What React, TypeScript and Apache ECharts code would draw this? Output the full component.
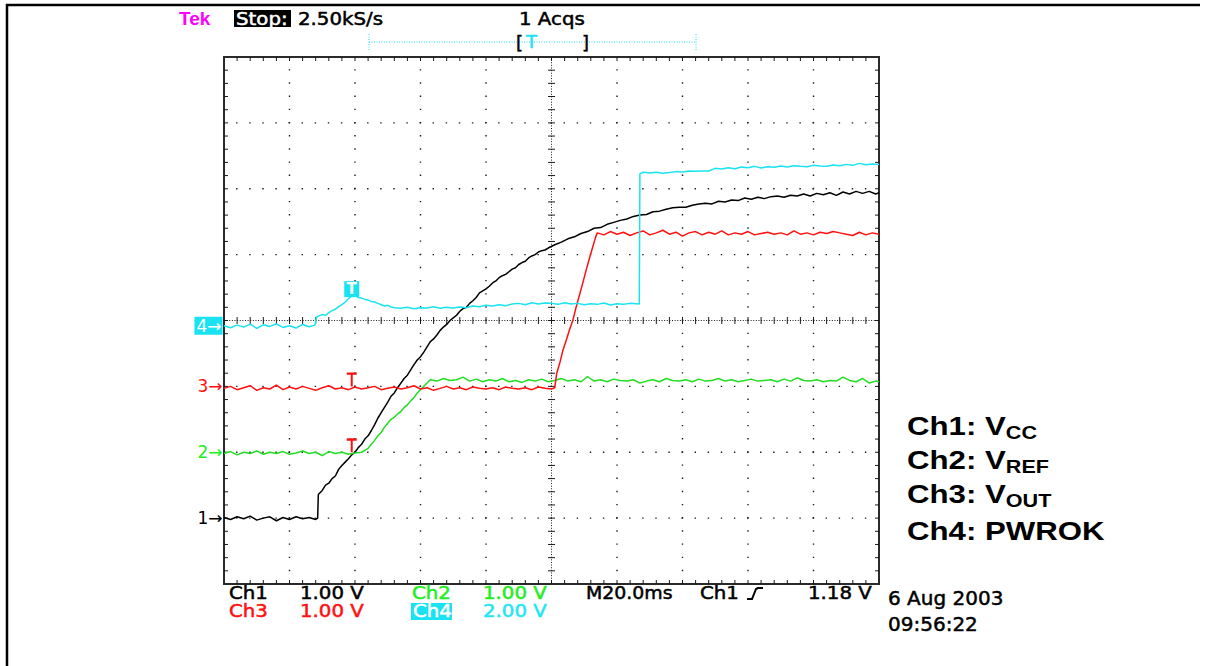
import { useEffect, useRef } from 'react';
import * as echarts from 'echarts';

// Horizontal scale: milliseconds relative to the trigger, 20 ms per division.
const timeMin = -40;
const timeMax = 160;
const timePerDiv = 20;
const divisionsX = 10;
const divisionsY = 8;

// Time of the trigger markers drawn on the traces.
const triggerMarkMs = -1;
// Ch4 level (V) where the trigger badge sits.
const ch4TriggerVolts = 0.93;

// Ch1: VCC, volts.
const ch1Vcc: [number, number][] = [
  [-40, 0.01], [-38, -0.02], [-36, 0.02], [-34, -0.01], [-32, 0.03], [-30, -0.03], [-28, 0.0], [-26, 0.02],
  [-24, -0.04], [-22, 0.01], [-20, -0.02], [-18, 0.02], [-16, -0.01], [-14, 0.01], [-12, -0.02], [-11.4, 0.0],
  [-11.2, 0.36], [-10, 0.42], [-9, 0.5], [-8, 0.53], [-7, 0.6], [-6, 0.64], [-5, 0.74], [-4, 0.8], [-3, 0.85],
  [-2, 0.9], [-1, 0.96], [0, 1.0], [1, 1.07], [2, 1.12], [3, 1.2], [4, 1.25], [5, 1.33], [6, 1.42], [7, 1.52],
  [8, 1.6], [9, 1.68], [10, 1.76], [11, 1.85], [12, 1.9], [13, 1.98], [14, 2.05], [15, 2.12], [16, 2.17],
  [17, 2.25], [18, 2.33], [19, 2.4], [20, 2.45], [21, 2.52], [22, 2.6], [23, 2.68], [24, 2.72], [25, 2.78],
  [26, 2.85], [27, 2.9], [28, 2.94], [29, 3.0], [30, 3.04], [31, 3.08], [32, 3.14], [33, 3.18], [34, 3.2],
  [35, 3.26], [36, 3.3], [37, 3.35], [38, 3.42], [39, 3.45], [40, 3.48], [41, 3.52], [42, 3.57], [43, 3.6],
  [44, 3.65], [45, 3.68], [46, 3.7], [47, 3.74], [48, 3.78], [49, 3.8], [50, 3.85], [51, 3.88], [52, 3.9],
  [53, 3.95], [54, 3.98], [55, 4.0], [56, 4.04], [57, 4.06], [58, 4.07], [59, 4.1], [61, 4.15], [63, 4.19],
  [65, 4.24], [67, 4.27], [69, 4.32], [71, 4.35], [73, 4.4], [75, 4.41], [77, 4.46], [79, 4.49], [81, 4.52],
  [83, 4.54], [85, 4.58], [87, 4.6], [89, 4.61], [91, 4.65], [93, 4.66], [95, 4.69], [97, 4.71], [99, 4.72],
  [101, 4.72], [103, 4.75], [105, 4.77], [107, 4.78], [109, 4.77], [111, 4.81], [113, 4.8], [115, 4.83],
  [117, 4.82], [119, 4.86], [121, 4.84], [123, 4.87], [125, 4.85], [127, 4.88], [129, 4.89], [131, 4.87],
  [133, 4.9], [135, 4.89], [137, 4.92], [139, 4.89], [141, 4.93], [143, 4.91], [145, 4.94], [147, 4.9],
  [149, 4.95], [151, 4.92], [153, 4.96], [155, 4.93], [157, 4.96], [159, 4.92], [160, 4.94],
];

// Ch2: VREF, volts.
const ch2Vref: [number, number][] = [
  [-40, -0.02], [-38, 0.01], [-36, -0.04], [-34, 0.0], [-32, -0.02], [-30, 0.02], [-28, -0.03], [-26, 0.0],
  [-24, -0.02], [-22, 0.01], [-20, -0.03], [-18, -0.01], [-16, 0.02], [-14, -0.02], [-12, 0.0], [-10, -0.05],
  [-8, 0.01], [-6, -0.02], [-4, 0.0], [-2, -0.03], [0, -0.01], [2, 0.0], [3, 0.03], [4, 0.06], [5, 0.12],
  [6, 0.18], [7, 0.25], [8, 0.3], [9, 0.38], [10, 0.44], [11, 0.5], [12, 0.53], [13, 0.58], [14, 0.62],
  [15, 0.68], [16, 0.72], [17, 0.78], [18, 0.83], [19, 0.9], [20, 0.95], [21, 1.0], [22, 1.05], [23, 1.1],
  [25, 1.08], [27, 1.12], [29, 1.09], [31, 1.1], [33, 1.14], [35, 1.08], [37, 1.11], [39, 1.07], [41, 1.1],
  [43, 1.08], [45, 1.12], [47, 1.07], [49, 1.09], [51, 1.06], [53, 1.1], [55, 1.08], [57, 1.11], [59, 1.07],
  [61, 1.09], [63, 1.12], [65, 1.08], [67, 1.1], [69, 1.07], [71, 1.15], [73, 1.08], [75, 1.1], [77, 1.07],
  [79, 1.11], [81, 1.09], [83, 1.08], [85, 1.1], [87, 1.05], [89, 1.08], [91, 1.1], [93, 1.07], [95, 1.12],
  [97, 1.09], [99, 1.08], [101, 1.1], [103, 1.07], [105, 1.11], [107, 1.08], [109, 1.09], [111, 1.12],
  [113, 1.08], [115, 1.1], [117, 1.07], [119, 1.09], [121, 1.11], [123, 1.08], [125, 1.09], [127, 1.1],
  [129, 1.07], [131, 1.11], [133, 1.08], [135, 1.13], [137, 1.09], [139, 1.08], [141, 1.1], [143, 1.07],
  [145, 1.09], [147, 1.08], [149, 1.14], [151, 1.09], [153, 1.07], [155, 1.12], [157, 1.05], [159, 1.08],
  [160, 1.07],
];

// Ch3: VOUT, volts.
const ch3Vout: [number, number][] = [
  [-40, -0.03], [-38, 0.0], [-36, -0.05], [-34, -0.02], [-32, 0.01], [-30, -0.06], [-28, -0.02], [-26, -0.04],
  [-24, 0.02], [-22, -0.05], [-20, -0.01], [-18, -0.04], [-16, 0.0], [-14, -0.03], [-12, -0.06], [-10, -0.02],
  [-8, 0.01], [-6, -0.04], [-4, -0.02], [-2, -0.05], [0, -0.01], [2, -0.04], [4, -0.02], [6, 0.0], [8, -0.05],
  [10, -0.03], [12, -0.01], [14, -0.04], [16, -0.02], [18, 0.01], [20, -0.04], [22, -0.02], [24, -0.06],
  [26, -0.03], [28, 0.0], [30, -0.04], [32, -0.02], [34, -0.05], [36, -0.01], [38, -0.03], [40, -0.04],
  [42, -0.02], [44, -0.05], [46, -0.01], [48, -0.03], [50, -0.04], [52, -0.02], [54, -0.05], [56, -0.01],
  [58, -0.03], [60, -0.04], [61, -0.02], [61.6, 0.2], [62.5, 0.35], [63.5, 0.55], [64.5, 0.7], [65.5, 0.86],
  [66.5, 1.0], [67.5, 1.2], [68.5, 1.38], [69.5, 1.56], [70.5, 1.75], [71.5, 1.93], [72.5, 2.1], [73.5, 2.27],
  [74, 2.33], [76, 2.3], [78, 2.35], [80, 2.31], [82, 2.34], [84, 2.29], [86, 2.33], [88, 2.36], [90, 2.3],
  [92, 2.33], [94, 2.37], [96, 2.31], [98, 2.34], [100, 2.28], [102, 2.33], [104, 2.35], [106, 2.3],
  [108, 2.34], [110, 2.31], [112, 2.36], [114, 2.3], [116, 2.33], [118, 2.31], [120, 2.35], [122, 2.3],
  [124, 2.32], [126, 2.34], [128, 2.31], [130, 2.33], [132, 2.3], [134, 2.36], [136, 2.31], [138, 2.33],
  [140, 2.3], [142, 2.34], [144, 2.32], [146, 2.35], [148, 2.33], [150, 2.31], [152, 2.29], [154, 2.34],
  [156, 2.3], [158, 2.33], [160, 2.31],
];

// Ch4: PWROK, volts.
const ch4Pwrok: [number, number][] = [
  [-40, 0.0], [-38, -0.06], [-36, 0.02], [-34, -0.04], [-32, 0.05], [-30, -0.08], [-28, 0.03], [-26, -0.02],
  [-24, 0.06], [-22, -0.05], [-20, 0.0], [-18, -0.07], [-16, 0.04], [-14, -0.03], [-12.2, 0.02],
  [-11.8, 0.26], [-11, 0.3], [-10, 0.34], [-9, 0.32], [-8, 0.4], [-7, 0.46], [-6, 0.5], [-5, 0.58], [-4, 0.64],
  [-3, 0.72], [-2, 0.82], [-1, 0.9], [0, 0.92], [1, 0.86], [2, 0.84], [3, 0.8], [4, 0.78], [5, 0.74], [6, 0.72],
  [7, 0.68], [8, 0.64], [9, 0.6], [10, 0.62], [11, 0.57], [12, 0.55], [14, 0.53], [16, 0.56], [18, 0.52],
  [20, 0.55], [22, 0.54], [24, 0.58], [26, 0.53], [28, 0.56], [30, 0.54], [32, 0.57], [34, 0.55], [36, 0.6],
  [38, 0.58], [40, 0.62], [42, 0.6], [44, 0.64], [46, 0.61], [48, 0.66], [50, 0.68], [52, 0.64], [54, 0.7],
  [56, 0.66], [58, 0.69], [60, 0.68], [62, 0.65], [64, 0.7], [66, 0.66], [68, 0.68], [70, 0.64], [72, 0.67],
  [74, 0.65], [76, 0.69], [78, 0.63], [80, 0.67], [82, 0.65], [84, 0.68], [86.8, 0.66], [87.0, 4.62],
  [88, 4.66], [90, 4.64], [92, 4.66], [94, 4.63], [96, 4.65], [98, 4.68], [100, 4.67], [102, 4.7], [104, 4.69],
  [106, 4.7], [108, 4.7], [110, 4.78], [112, 4.76], [114, 4.8], [116, 4.77], [118, 4.82], [120, 4.8],
  [122, 4.84], [124, 4.79], [126, 4.83], [128, 4.81], [130, 4.85], [132, 4.82], [134, 4.86], [136, 4.84],
  [138, 4.83], [140, 4.87], [142, 4.85], [144, 4.84], [146, 4.88], [148, 4.86], [150, 4.9], [152, 4.87],
  [154, 4.93], [156, 4.89], [158, 4.91], [160, 4.9],
];

// Channel setup: scale (V/div) and ground position (divisions from the bottom).
const channels = [
  { num: 1, data: ch1Vcc, voltsPerDiv: 1, groundDiv: 1, color: '#000000', textColor: '#000000' },
  { num: 2, data: ch2Vref, voltsPerDiv: 1, groundDiv: 2, color: '#22dd22', textColor: '#22ee22' },
  { num: 3, data: ch3Vout, voltsPerDiv: 1, groundDiv: 3, color: '#ff1010', textColor: '#ff1010' },
  { num: 4, data: ch4Pwrok, voltsPerDiv: 2, groundDiv: 3.92, color: '#19e3f2', textColor: '#22e6f2' },
];

const headerBrand = 'Tek';
const headerState = 'Stop:';
const headerRate = '2.50kS/s';
const headerAcqs = '1 Acqs';
const triggerSource = 'Ch1';
const triggerLevel = '1.18 V';
const captureDate = '6 Aug 2003';
const captureTime = '09:56:22';

// Signal names shown beside the screen.
const signalNames = [
  { main: 'Ch1: V', sub: 'CC' },
  { main: 'Ch2: V', sub: 'REF' },
  { main: 'Ch3: V', sub: 'OUT' },
  { main: 'Ch4: PWROK', sub: '' },
];

const scopeFamily = '"DejaVu Sans"';
const scopeStretch = 1.13;

function scopeText(x: number, y: number, text: string, fill: string, size = 17.5, stretch = scopeStretch) {
  return {
    type: 'text',
    x,
    y,
    scaleX: stretch,
    silent: true,
    style: {
      text,
      fill,
      stroke: fill,
      lineWidth: 0.5,
      font: `normal ${size}px ${scopeFamily}`,
      align: 'left',
      textAlign: 'left',
      verticalAlign: 'middle',
      textVerticalAlign: 'middle',
    },
  };
}

function buildGraticule(_params: any, api: any) {
  const [left, bottom] = api.coord([timeMin, 0]);
  const [right, top] = api.coord([timeMax, divisionsY]);
  const divW = (right - left) / divisionsX;
  const divH = (bottom - top) / divisionsY;
  const minorW = divW / 5;
  const minorH = divH / 5;
  const ink = '#1a1a1a';
  const children: any[] = [];
  const seg = (x1: number, y1: number, x2: number, y2: number, extra: any = {}) =>
    children.push({ type: 'line', shape: { x1, y1, x2, y2 }, style: { stroke: ink, lineWidth: 1, ...extra } });

  for (let i = 1; i < divisionsX; i++) {
    if (i === divisionsX / 2) continue;
    const x = left + i * divW;
    seg(x, top, x, bottom, { lineWidth: 1.4, lineDash: [1.4, minorH - 1.4], lineDashOffset: 0.7 });
  }
  for (let j = 1; j < divisionsY; j++) {
    if (j === divisionsY / 2) continue;
    const y = top + j * divH;
    seg(left, y, right, y, { lineWidth: 1.4, lineDash: [1.4, minorW - 1.4], lineDashOffset: 0.7 });
  }
  const cx = left + (divisionsX / 2) * divW;
  const cy = top + (divisionsY / 2) * divH;
  seg(cx, top, cx, bottom, { lineDash: [1, 1.63] });
  seg(left, cy, right, cy, { lineDash: [1, 1.62] });
  for (let k = 1; k < divisionsY * 5; k++) {
    const y = top + k * minorH;
    seg(cx - 3.5, y, cx + 3.5, y);
    seg(left, y, left + 4, y);
    seg(right - 4, y, right, y);
  }
  for (let k = 1; k < divisionsX * 5; k++) {
    const x = left + k * minorW;
    seg(x, cy - 3.5, x, cy + 3.5);
    seg(x, top, x, top + 4);
    seg(x, bottom - 4, x, bottom);
  }
  return { type: 'group', children };
}

const triggerTPath = 'path://M0 0H10V2.4H6V14H4V2.4H0Z';

function buildOption(measure: (t: string, f: string) => number) {
  const toDiv = (ch: (typeof channels)[number], v: number) => ch.groundDiv + v / ch.voltsPerDiv;

  const traceSeries = channels.map((ch) => {
    const marks: any[] = [
      {
        coord: [timeMin, ch.groundDiv],
        symbol: 'rect',
        symbolSize: 1,
        itemStyle: { color: 'rgba(0,0,0,0)' },
        label: {
          show: true,
          position: 'left',
          distance: 1,
          formatter: `${ch.num}\u2192`,
          color: ch.num === 4 ? '#ffffff' : ch.textColor,
          backgroundColor: ch.num === 4 ? ch.color : 'transparent',
          padding: ch.num === 4 ? [1, 1, 0, 2] : [0, 0, 0, 0],
          fontFamily: 'DejaVu Sans',
          fontSize: 17,
        },
      },
    ];
    if (ch.num === 4) {
      marks.push({
        coord: [triggerMarkMs, toDiv(ch, ch4TriggerVolts)],
        symbol: 'rect',
        symbolSize: [15, 16],
        symbolOffset: [0, -6],
        itemStyle: { color: ch.color },
        label: {
          show: true,
          position: 'inside',
          formatter: 'T',
          color: '#ffffff',
          fontFamily: 'DejaVu Sans',
          fontWeight: 'bold',
          fontSize: 15,
        },
      });
    }
    if (ch.num === 3) {
      [channels[2], channels[1]].forEach((c) => {
        marks.push({
          coord: [triggerMarkMs, c.groundDiv],
          symbol: triggerTPath,
          symbolSize: [10, 14],
          symbolOffset: [0, -7],
          itemStyle: { color: '#ff1010' },
          label: { show: false },
        });
      });
    }
    return {
      type: 'line',
      name: `Ch${ch.num}`,
      data: ch.data.map(([t, v]) => [t, toDiv(ch, v)]),
      showSymbol: false,
      symbol: 'none',
      silent: true,
      z: 3,
      lineStyle: { color: ch.color, width: 1.5 },
      itemStyle: { color: ch.color },
      markPoint: { silent: true, symbolKeepAspect: false, data: marks },
    };
  });

  const graphics: any[] = [];
  // page frame
  graphics.push({
    type: 'polyline',
    silent: true,
    shape: { points: [[7, 666], [7, 5], [1200, 5]] },
    style: { stroke: '#000', lineWidth: 2.5, fill: null },
  });

  // header
  graphics.push({
    type: 'text',
    x: 179,
    y: 18,
    silent: true,
    style: {
      text: headerBrand,
      fill: '#ff00ff',
      font: 'bold 19px "Liberation Sans"',
      verticalAlign: 'middle',
      textVerticalAlign: 'middle',
    },
  });
  graphics.push({ type: 'rect', silent: true, shape: { x: 234, y: 10, width: 57, height: 17 }, style: { fill: '#000' } });
  graphics.push(scopeText(236, 18.5, headerState, '#ffffff'));
  graphics.push(scopeText(298, 18.5, headerRate, '#000000'));
  graphics.push(scopeText(519, 18.5, headerAcqs, '#000000'));
  graphics.push({
    type: 'line',
    silent: true,
    shape: { x1: 369, y1: 42, x2: 696, y2: 42 },
    style: { stroke: '#19e3f2', lineWidth: 1, lineDash: [1, 1.5] },
  });
  [369, 696].forEach((x) =>
    graphics.push({
      type: 'line',
      silent: true,
      shape: { x1: x, y1: 34, x2: x, y2: 50 },
      style: { stroke: '#19e3f2', lineWidth: 1, lineDash: [1, 1.5] },
    })
  );
  graphics.push(scopeText(516, 42, '[', '#000000', 18, 1));
  graphics.push(scopeText(582, 42, ']', '#000000', 18, 1));
  graphics.push(scopeText(526, 41, 'T', '#19e3f2', 18, 1));

  // channel scale readouts
  const row1 = 593;
  const row2 = 611;
  const vdiv = (v: number) => `${v.toFixed(2)} V`;
  graphics.push(scopeText(229, row1, 'Ch1', channels[0].textColor));
  graphics.push(scopeText(300, row1, vdiv(channels[0].voltsPerDiv), channels[0].textColor));
  graphics.push(scopeText(412, row1, 'Ch2', channels[1].textColor));
  graphics.push(scopeText(483, row1, vdiv(channels[1].voltsPerDiv), channels[1].textColor));
  graphics.push(scopeText(229, row2, 'Ch3', channels[2].textColor));
  graphics.push(scopeText(300, row2, vdiv(channels[2].voltsPerDiv), channels[2].textColor));
  graphics.push({ type: 'rect', silent: true, shape: { x: 411, y: 603, width: 41, height: 17 }, style: { fill: channels[3].color } });
  graphics.push(scopeText(413, row2, 'Ch4', '#ffffff'));
  graphics.push(scopeText(483, row2, vdiv(channels[3].voltsPerDiv), channels[3].textColor));

  // timebase and trigger readouts
  graphics.push(scopeText(586, row1, `M${timePerDiv.toFixed(1)}ms`, '#000000', 17.5, 1.08));
  graphics.push(scopeText(700, row1, triggerSource, '#000000'));
  graphics.push({
    type: 'polyline',
    silent: true,
    shape: { points: [[747, 599], [752, 599], [754, 594], [756, 589], [758, 588], [763, 588]] },
    style: { stroke: '#000', lineWidth: 2, fill: null },
  });
  graphics.push(scopeText(808, row1, triggerLevel, '#000000'));
  graphics.push(scopeText(888, 598, captureDate, '#000000', 20, 1));
  graphics.push(scopeText(888, 624, captureTime, '#000000', 20, 1));

  // signal names
  const nameFont = 'bold 26px "Liberation Sans"';
  const subFont = 'bold 18px "Liberation Sans"';
  const nameRows = [426, 460, 494, 531];
  signalNames.forEach((s, i) => {
    const w = measure(s.main, nameFont);
    graphics.push({
      type: 'group',
      x: 907,
      y: nameRows[i],
      scaleX: 1.2,
      silent: true,
      children: [
        {
          type: 'text',
          x: 0,
          y: 0,
          style: { text: s.main, font: nameFont, fill: '#000', verticalAlign: 'middle', textVerticalAlign: 'middle' },
        },
        {
          type: 'text',
          x: w,
          y: 6.2,
          style: { text: s.sub, font: subFont, fill: '#000', verticalAlign: 'middle', textVerticalAlign: 'middle' },
        },
      ],
    });
  });

  return {
    animation: false,
    backgroundColor: '#ffffff',
    grid: {
      left: 224,
      top: 57,
      width: 655,
      height: 527,
      show: true,
      borderColor: '#2a2a2a',
      borderWidth: 2,
      backgroundColor: 'transparent',
    },
    xAxis: {
      type: 'value',
      min: timeMin,
      max: timeMax,
      interval: timePerDiv,
      axisLine: { show: false },
      axisTick: { show: false },
      axisLabel: { show: false },
      splitLine: { show: false },
    },
    yAxis: {
      type: 'value',
      min: 0,
      max: divisionsY,
      interval: 1,
      axisLine: { show: false },
      axisTick: { show: false },
      axisLabel: { show: false },
      splitLine: { show: false },
    },
    series: [
      {
        type: 'custom',
        name: 'graticule',
        silent: true,
        z: 1,
        clip: false,
        data: [[timeMin, 0]],
        renderItem: buildGraticule,
      },
      ...traceSeries,
    ],
    graphic: graphics,
  };
}

export default function App() {
  const ref = useRef<HTMLDivElement>(null);
  useEffect(() => {
    if (!ref.current) return;
    const chart = echarts.init(ref.current, undefined, { renderer: 'svg' });
    const ctx = document.createElement('canvas').getContext('2d');
    const measure = (t: string, f: string) => {
      if (!ctx) return t.length * 14;
      ctx.font = f;
      return ctx.measureText(t).width;
    };
    chart.setOption(buildOption(measure) as any);
    return () => chart.dispose();
  }, []);
  return (
    <div
      ref={ref}
      style={{ position: 'fixed', left: 0, top: 0, width: 1213, height: 666, background: '#fff' }}
    />
  );
}
